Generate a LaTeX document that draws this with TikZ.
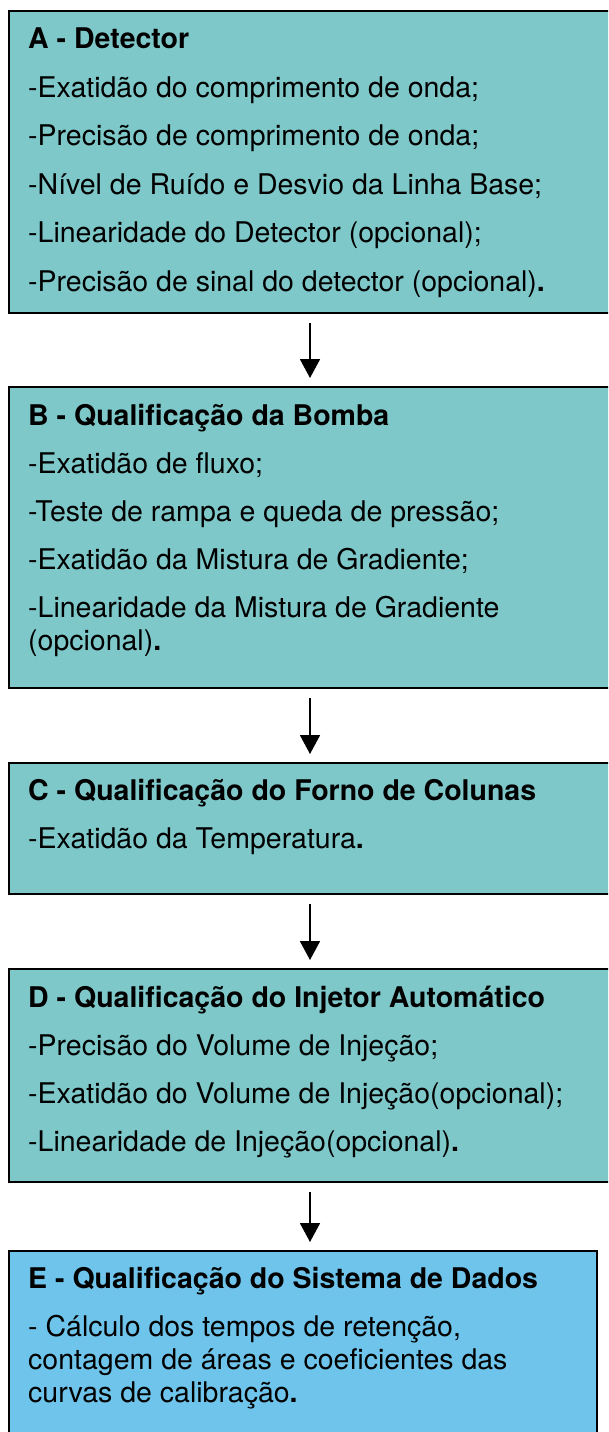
\documentclass[tikz,border=0pt]{standalone}
\usepackage{fontspec}
\setmainfont{TeX Gyre Heros}
\usetikzlibrary{arrows.meta,positioning}
\definecolor{stagefill}{RGB}{126,200,202}
\definecolor{datafill}{RGB}{110,196,234}

\begin{document}
\begin{tikzpicture}[x=1pt,y=-1pt,
    stage/.style={draw=black,line width=2pt,fill=stagefill,anchor=north west,
                  inner sep=0pt,minimum width=602pt},
    body/.style={anchor=base west,align=left,inner sep=0pt,
                 font=\fontsize{28.5}{33}\selectfont},
    arrow/.style={-{Triangle[length=19pt,width=20pt]},line width=1.8pt,
                  shorten <=9pt,shorten >=8pt}
  ]
    \useasboundingbox (0,0) rectangle (608,1432);
    \clip (0,0) rectangle (608,1432);
    % boxes
    \node[stage,minimum height=302pt] (A) at (8,10) {};
    \node[stage,minimum height=301pt] (B) at (8,386) {};
    \node[stage,minimum height=131pt] (C) at (8,762) {};
    \node[stage,minimum height=213pt] (D) at (8,968) {};
    \node[stage,fill=datafill,minimum width=588pt,minimum height=200pt] (E) at (8,1250) {};
    % texts (placed at the baseline of their last line)
    \node[body] (Atxt) at (28,291) {\textbf{A - Detector}\\[16pt]
      -Exatidão do comprimento de onda;\\[15.5pt]
      -Precisão de comprimento de onda;\\[15.5pt]
      -Nível de Ruído e Desvio da Linha Base;\\[15.5pt]
      -Linearidade do Detector (opcional);\\[15.5pt]
      -Precisão de sinal do detector (opcional)\textbf{.}};
    \node[body] (Btxt) at (28,650) {\textbf{B - Qualificação da Bomba}\\[15pt]
      -Exatidão de fluxo;\\[15pt]
      -Teste de rampa e queda de pressão;\\[15pt]
      -Exatidão da Mistura de Gradiente;\\[15pt]
      -Linearidade da Mistura de Gradiente\\
      (opcional)\textbf{.}};
    \node[body] (Ctxt) at (28,848) {\textbf{C - Qualificação do Forno de Colunas}\\[15pt]
      -Exatidão da Temperatura\textbf{.}};
    \node[body] (Dtxt) at (28,1151) {\textbf{D - Qualificação do Injetor Automático}\\[15pt]
      -Precisão do Volume de Injeção;\\[15pt]
      -Exatidão do Volume de Injeção(opcional);\\[15pt]
      -Linearidade de Injeção(opcional)\textbf{.}};
    \node[body] (Etxt) at (28,1402) {\textbf{E - Qualificação do Sistema de Dados}\\[15pt]
      - Cálculo dos tempos de retenção,\\
      contagem de áreas e coeficientes das\\
      curvas de calibração\textbf{.}};
    % arrows
    \draw[arrow] (A.south) -- (B.north);
    \draw[arrow] (B.south) -- (C.north);
    \draw[arrow] (C.south) -- (D.north);
    \draw[arrow] (D.south) -- (D.south |- E.north);
\end{tikzpicture}
\end{document}
